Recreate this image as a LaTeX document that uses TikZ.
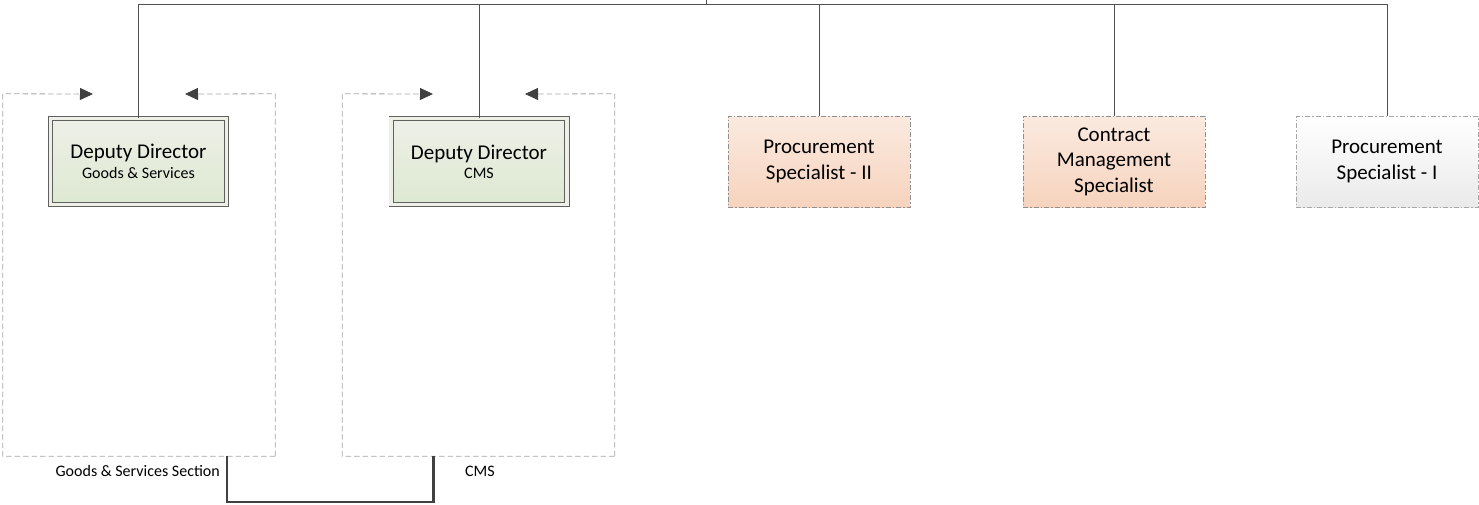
\documentclass[tikz,border=0pt]{standalone}
\usepackage{fontspec}
\setmainfont{Carlito}
\usetikzlibrary{arrows.meta,calc}
\definecolor{lineC}{HTML}{505050}
\definecolor{contC}{HTML}{A6A6A6}
\definecolor{ddTop}{HTML}{EEF0E8}
\definecolor{ddBot}{HTML}{DDE8D1}
\definecolor{ddEdge}{HTML}{606060}
\definecolor{psTop}{HTML}{FBEAE0}
\definecolor{psBot}{HTML}{F6D3BD}
\definecolor{psEdge}{HTML}{909090}
\definecolor{grTop}{HTML}{FFFFFF}
\definecolor{grBot}{HTML}{EAEAEA}
\begin{document}
\begin{tikzpicture}[x=1pt,y=-1pt,
  conn/.style={draw=lineC, line width=0.8pt},
  cont/.style={draw=contC, line width=0.8pt, dash pattern=on 5.5pt off 3pt},
  arr/.style={-{Triangle[length=13pt,width=12pt,color=black!75]}},
  bigf/.style={font=\fontsize{21}{25.5}\selectfont},
  smallf/.style={font=\fontsize{16}{19}\selectfont},
  ddbox/.style={draw=ddEdge, line width=0.8pt, double=ddTop, double distance=3.5pt,
    top color=ddTop, bottom color=ddBot, minimum width=175.9pt, minimum height=85.9pt,
    inner sep=0pt, align=center},
  psbox/.style={draw=psEdge, line width=0.8pt, dash pattern=on 5pt off 2pt on 1.5pt off 2pt,
    top color=psTop, bottom color=psBot, minimum width=182pt, minimum height=91pt,
    inner sep=0pt, align=center, bigf},
  grbox/.style={psbox, draw=contC, top color=grTop, bottom color=grBot},
  container/.style={minimum width=272pt, minimum height=362pt, inner sep=0pt},
  linkline/.style={draw=black!75, line width=2.4pt}
]
\useasboundingbox (0,0) rectangle (1479,504);

% containers (group frames)
\node[container] (gsc) at (139,275) {};
\node[container] (csc) at (478.5,275) {};

\draw[cont, arr] (gsc.south east) -- (gsc.south west) -- (gsc.north west) -- (93,94);
\draw[cont, arr] (gsc.south east) -- (gsc.north east) -- (185,94);
\draw[cont, arr] (csc.south east) -- (csc.south west) -- (csc.north west) -- (433,94);
\draw[cont, arr] (csc.south east) -- (csc.north east) -- (525,94);

% boxes
\node[ddbox] (dgs) at (138.5,161.5) {{\fontsize{21}{21}\selectfont Deputy Director}\\[4pt]{\fontsize{16}{16}\selectfont Goods \& Services}};
\node[ddbox] (dcms) at (479,161.5) {{\fontsize{21}{21}\selectfont Deputy Director}\\[4pt]{\fontsize{16}{16}\selectfont CMS}};
\node[psbox] (ps2) at (819,161.5) {Procurement\\Specialist - II};
\node[psbox] (cms) at (1114,161.5) {Contract\\Management\\Specialist};
\node[grbox] (ps1) at (1387,161.5) {Procurement\\Specialist - I};

% top bus
\coordinate (top) at (706,0);
\coordinate (bus) at (706,4);
\draw[conn] (top) -- (bus);
\draw[conn] (bus) -| (dgs.north);
\draw[conn] (bus) -| (dcms.north);
\draw[conn] (bus) -| (ps2.north);
\draw[conn] (bus) -| (cms.north);
\draw[conn] (bus) -| (ps1.north);

% section labels
\node[smallf, anchor=base east, inner sep=0pt] (gsl) at (220,476) {Goods \& Services Section};
\node[smallf, anchor=base west, inner sep=0pt] (csl) at (465,476) {CMS};

% link between sections
\draw[linkline] (gsc.south -| dgs.east) -- ++(0,46) -| ([xshift=-45pt]csc.south);
\end{tikzpicture}
\end{document}
